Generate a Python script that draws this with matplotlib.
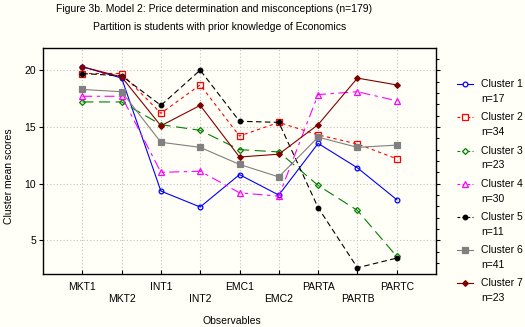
import matplotlib
matplotlib.use("Agg")
import matplotlib.pyplot as plt
from matplotlib.lines import Line2D
from matplotlib.ticker import MultipleLocator

plt.rcParams['font.family'] = ['Liberation Sans', 'DejaVu Sans']

observables = ["MKT1", "MKT2", "INT1", "INT2", "EMC1", "EMC2", "PARTA", "PARTB", "PARTC"]
cluster_names = ["Cluster 1", "Cluster 2", "Cluster 3", "Cluster 4", "Cluster 5", "Cluster 6", "Cluster 7"]
cluster_n = [17, 34, 23, 30, 11, 41, 23]

c1 = [20.3, 19.3, 9.35, 7.95, 10.8, 9.0, 13.55, 11.4, 8.6]
c2 = [19.7, 19.7, 16.2, 18.7, 14.2, 15.4, 14.3, 13.5, 12.2]
c3 = [17.2, 17.2, 15.2, 14.7, 13.0, 12.8, 9.85, 7.65, 3.6]
c4 = [17.7, 17.7, 11.0, 11.1, 9.2, 8.9, 17.85, 18.1, 17.3]
c5 = [19.7, 19.5, 16.9, 20.0, 15.5, 15.4, 7.9, 2.6, 3.45]
c6 = [18.3, 18.1, 13.65, 13.2, 11.7, 10.6, 14.1, 13.2, 13.4]
c7 = [20.3, 19.4, 15.1, 16.9, 12.35, 12.6, 15.2, 19.3, 18.7]
series = [c1, c2, c3, c4, c5, c6, c7]

# colour, linestyle, marker, marker size, filled
styles = [
    ("#0000ff", "-", "o", 3.4, False),
    ("#ff0000", (0, (3, 3)), "s", 4.2, False),
    ("#008000", (0, (10, 5)), "D", 3.0, False),
    ("#ff00ff", (0, (9, 4, 3, 4)), "^", 3.8, False),
    ("#000000", (0, (5, 3)), "o", 3.3, True),
    ("#808080", "-", "s", 4.2, True),
    ("#800000", "-", "D", 2.9, True),
]

bg = "#fffff8"
W, H = 525, 327
fig = plt.figure(figsize=(W / 100, H / 100), dpi=100, facecolor=bg)
ax = fig.add_axes([43 / W, 1 - 274 / H, 393 / W, 226 / H], facecolor=bg)

x = list(range(1, len(observables) + 1))
for vals, (col, ls, mk, ms, filled) in zip(series, styles):
    ax.plot(x, vals, color=col, linestyle=ls, linewidth=0.8, marker=mk,
            markersize=ms, markeredgewidth=0.9, markeredgecolor=col,
            markerfacecolor=col if filled else "none", zorder=3)

ax.set_xlim(0, 10)
ax.set_ylim(2.05, 21.95)
ax.set_xticks(x)
ax.set_xticklabels([lab if i % 2 == 0 else "\n" + lab for i, lab in enumerate(observables)])
ax.set_yticks([5, 10, 15, 20])
ax.yaxis.set_minor_locator(MultipleLocator(1))
ax.tick_params(axis='x', direction='in', length=3, pad=6, labelsize=7.5, width=0.8)
ax.tick_params(axis='y', which='major', direction='out', length=3, pad=2,
               labelsize=7.5, left=True, right=True, width=0.8)
ax.tick_params(axis='y', which='minor', direction='out', length=2.5,
               left=False, right=True, width=0.8)
ax.grid(True, which='major', color='#c0c0c0', linestyle=(0, (1, 2)), linewidth=0.8)
for s in ax.spines.values():
    s.set_linewidth(1.0)

fig.text(214 / W, 1 - 9 / H, "Figure 3b. Model 2: Price determination and misconceptions (n=179)",
         ha='center', va='center', fontsize=7.5)
fig.text(220 / W, 1 - 27 / H, "Partition is students with prior knowledge of Economics",
         ha='center', va='center', fontsize=7.5)
fig.text(9 / W, 1 - 176 / H, "Cluster mean scores", rotation=90,
         ha='center', va='center', fontsize=7.5)
fig.text(232 / W, 1 - 321 / H, "Observables", ha='center', va='center', fontsize=7.5)

# legend drawn at the right side
for i, (name, n, (col, ls, mk, ms, filled)) in enumerate(zip(cluster_names, cluster_n, styles)):
    y = 84.3 + i * 33.1
    fig.add_artist(Line2D([457 / W, 473 / W], [1 - y / H, 1 - y / H], color=col,
                          linestyle=ls if ls == "-" else (0, (2.5, 2)), linewidth=0.8))
    fig.add_artist(Line2D([465 / W], [1 - y / H], color=col, marker=mk, markersize=ms,
                          markeredgewidth=0.9, markeredgecolor=col,
                          markerfacecolor=col if filled else bg, linestyle="none"))
    fig.text(481 / W, 1 - y / H, name, ha='left', va='center', fontsize=7.5)
    fig.text(481 / W, 1 - (y + 15) / H, f"n={n}", ha='left', va='center', fontsize=7.5)

fig.savefig("out.png", dpi=100, facecolor=bg)
